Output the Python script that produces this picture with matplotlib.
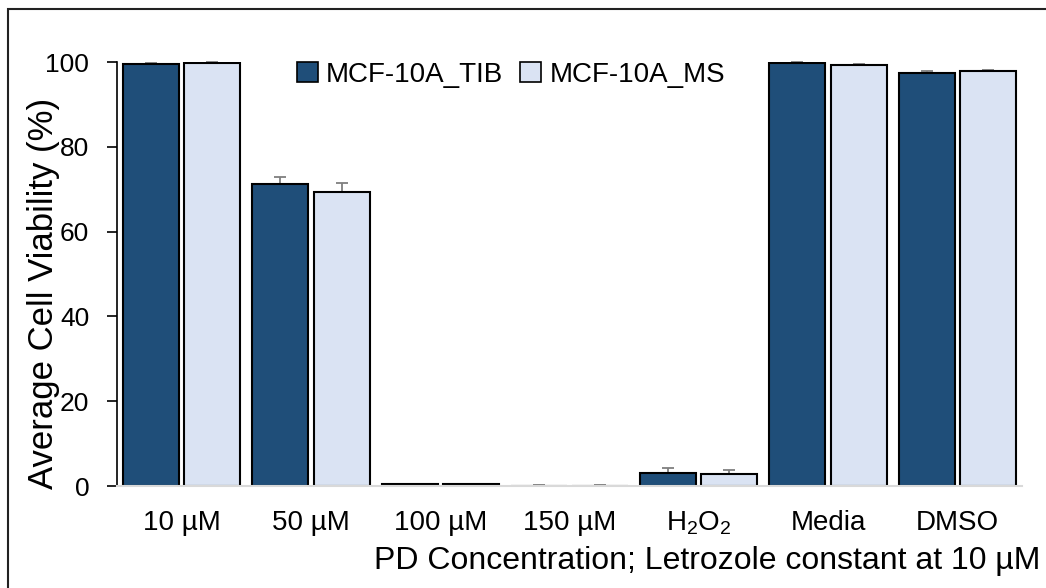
import matplotlib
matplotlib.use("Agg")
import matplotlib.pyplot as plt
import numpy as np
from matplotlib.patches import Rectangle

plt.rcParams['font.family'] = ['Liberation Sans', 'DejaVu Sans']
plt.rcParams['mathtext.default'] = 'regular'

categories = ["10 µM", "50 µM", "100 µM", "150 µM", "H$_2$O$_2$", "Media", "DMSO"]
series_names = ["MCF-10A_TIB", "MCF-10A_MS"]
tib_values = [99.5, 71.2, 0.4, 0.1, 3.1, 99.8, 97.5]
tib_errors = [0.3, 1.7, 0.1, 0.05, 1.1, 0.2, 0.3]
ms_values = [99.7, 69.3, 0.4, 0.1, 2.9, 99.3, 97.9]
ms_errors = [0.3, 2.2, 0.1, 0.05, 0.9, 0.3, 0.2]
y_ticks = [0, 20, 40, 60, 80, 100]

fig = plt.figure(figsize=(10.46, 5.88), dpi=100)
ax = fig.add_axes([117/1046, 1-486/588, 905/1046, 424/588])

x = np.arange(len(categories))
w = 0.434
off = 0.237
ax.bar(x - off, tib_values, w, color='#1f4e79', edgecolor='black',
       linewidth=1.5, label=series_names[0], zorder=2)
ax.bar(x + off, ms_values, w, color='#dae3f3', edgecolor='black',
       linewidth=1.5, label=series_names[1], zorder=2)
err_kw = dict(fmt='none', ecolor='#7f7f7f', elinewidth=1.3, capsize=4.5, capthick=1.3,
              zorder=1, clip_on=False)
ax.errorbar(x - off, tib_values, yerr=tib_errors, **err_kw)
ax.errorbar(x + off, ms_values, yerr=ms_errors, **err_kw)

ax.set_xlim(-0.5, len(categories) - 0.5)
ax.set_ylim(0, 100)
ax.set_yticks(y_ticks)
ax.set_xticks(x)
ax.set_xticklabels(categories, fontsize=20)
ax.tick_params(axis='x', length=0, pad=17)
ax.tick_params(axis='y', labelsize=19, length=7, width=1.2, direction='out', pad=13)

for s in ['top', 'right']:
    ax.spines[s].set_visible(False)
ax.spines['left'].set_linewidth(1.2)
ax.spines['bottom'].set_color('#d9d9d9')
ax.spines['bottom'].set_linewidth(1.5)

ax.set_ylabel("Average Cell Viability (%)", fontsize=25)
ax.yaxis.set_label_coords(-0.063, (486-293.5)/424)
ax.set_xlabel("PD Concentration; Letrozole constant at 10 µM", fontsize=23)
ax.xaxis.set_label_coords((707-117)/905, (486-546)/424)

leg = ax.legend(loc='center', bbox_to_anchor=((511-117)/905, (486-75)/424), ncol=2,
                frameon=False, fontsize=20, handlelength=0.75, handleheight=0.75,
                handletextpad=0.3, columnspacing=0.6)
for h in leg.legend_handles:
    h.set_linewidth(1.2)

fig.patches.append(Rectangle((8/1046, -0.2), 1.2, 1.2 - 9/588, transform=fig.transFigure,
                             fill=False, edgecolor='#222222', linewidth=1.5))

fig.savefig("out.png", dpi=100)
